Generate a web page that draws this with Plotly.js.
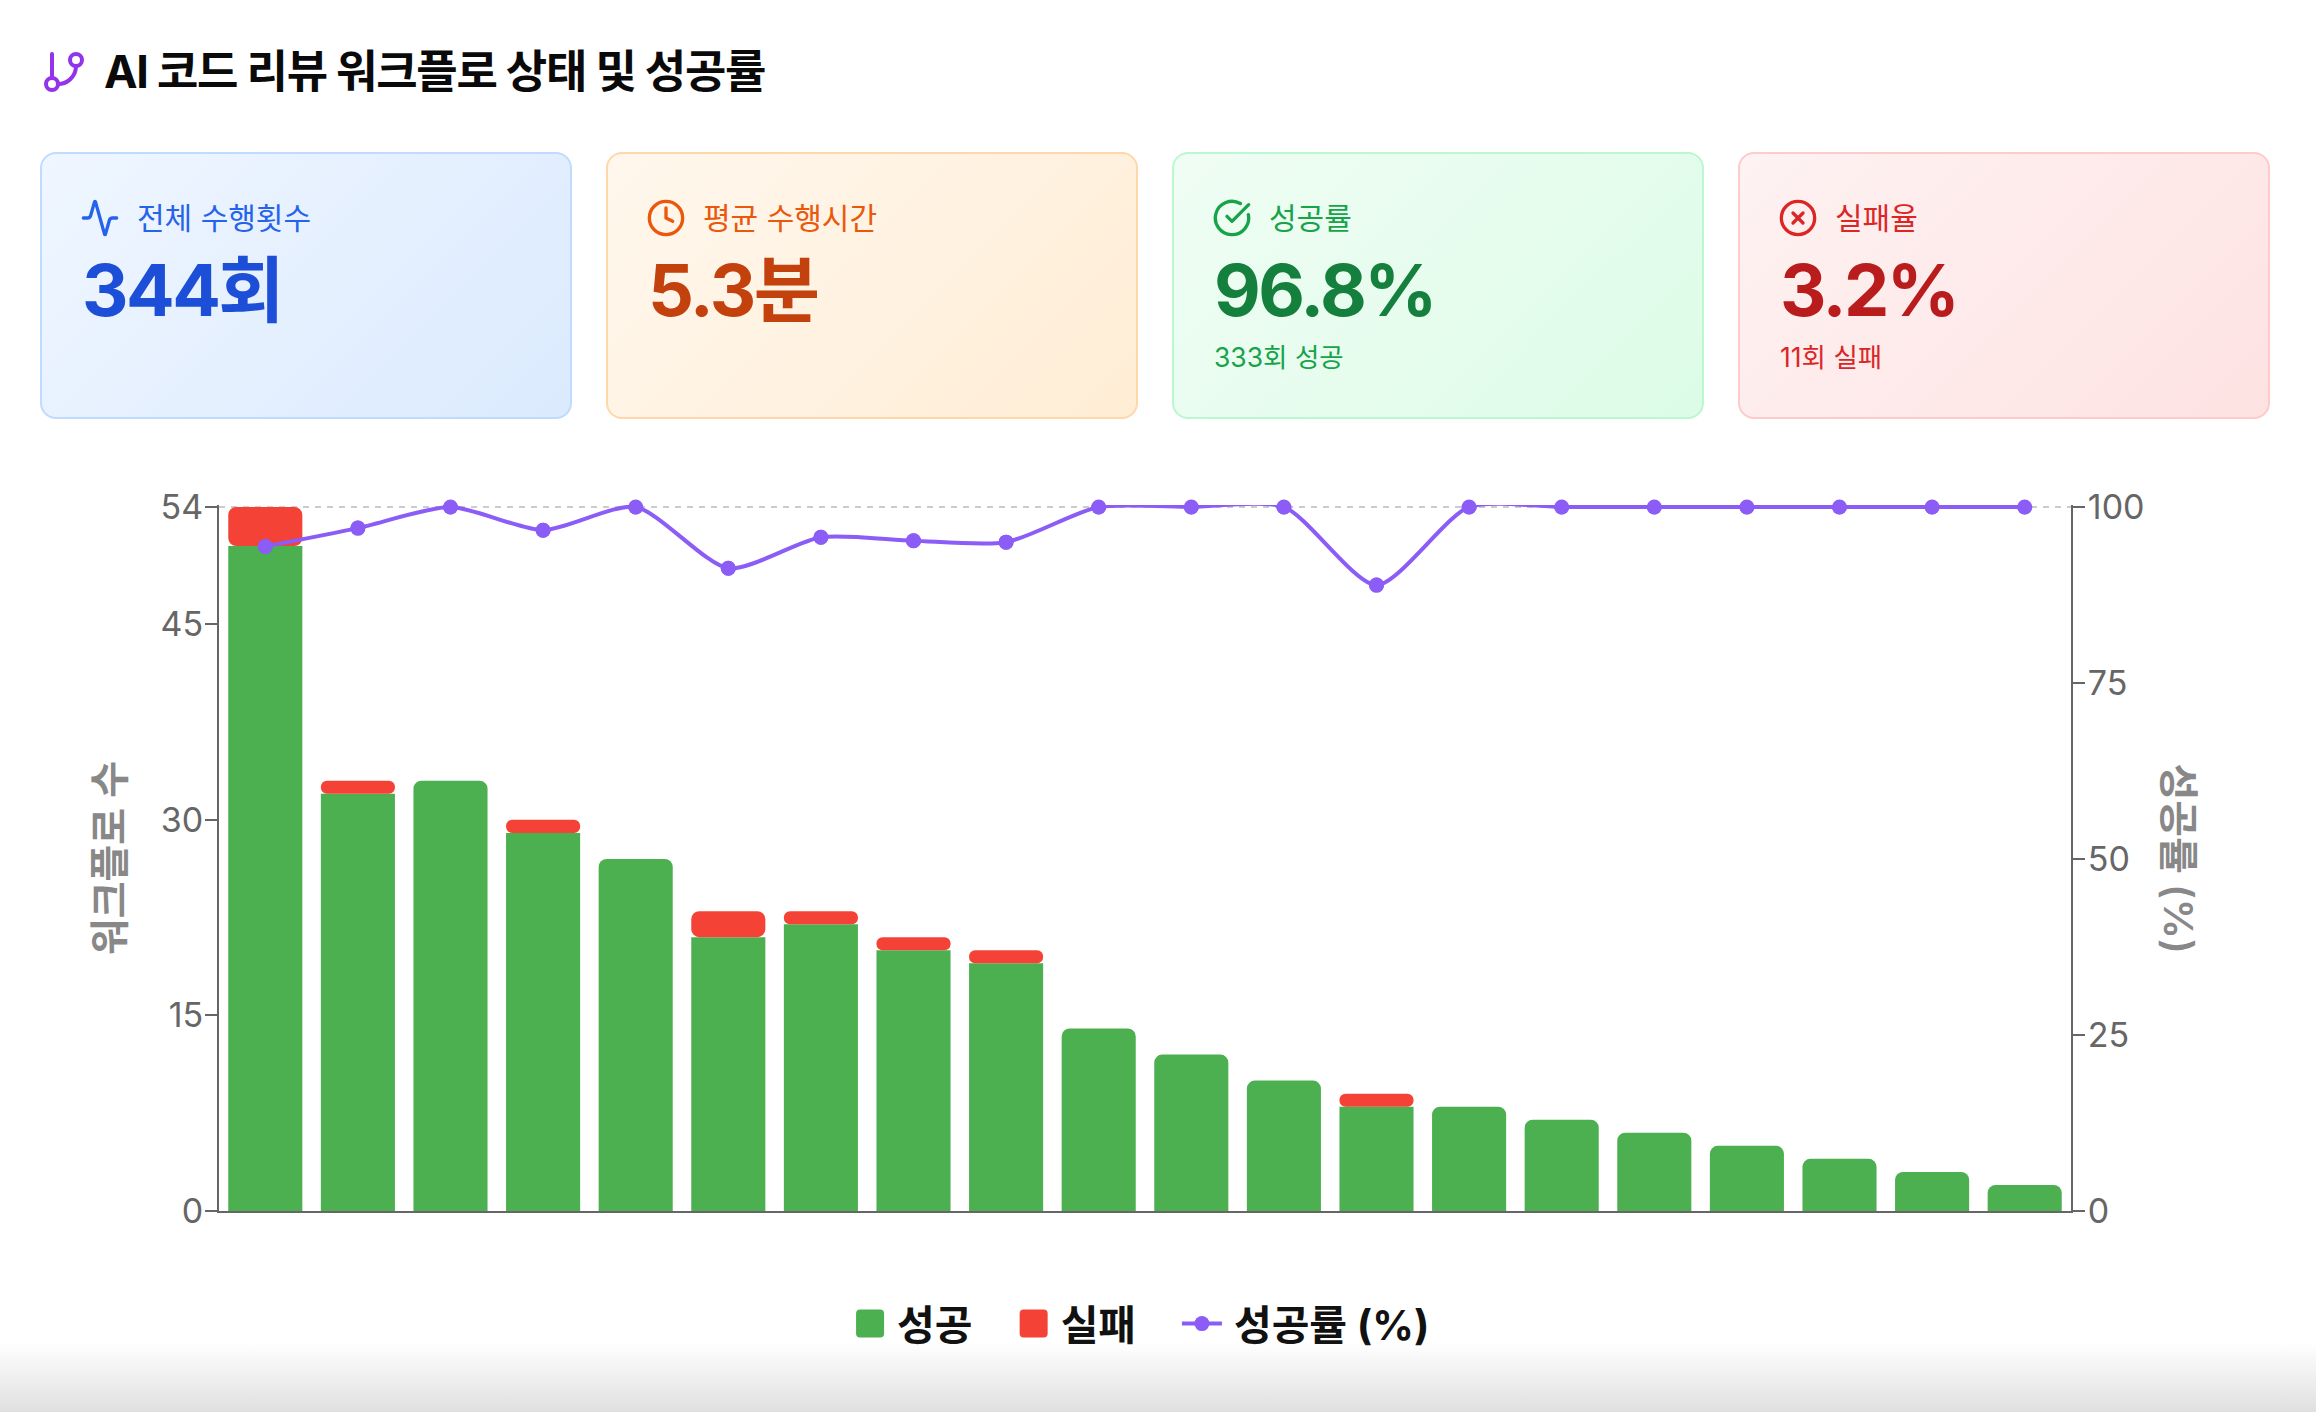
<!DOCTYPE html>
<html lang="ko">
<head>
<meta charset="utf-8">
<title>AI 코드 리뷰 워크플로 상태 및 성공률</title>
<script src="https://cdn.plot.ly/plotly-3.0.1.min.js"></script>
<style>
  html, body { margin: 0; background: #fff; font-family: Inter, "Noto Sans CJK KR", sans-serif; }
  body { position: relative; width: 2316px; height: 1412px; overflow: hidden; }
  #chart { position: absolute; left: 0; top: 0; width: 2316px; height: 1412px; }
  #chart .gtitle { letter-spacing: -1.3px; }
  #titleIcon { position: absolute; left: 40px; top: 48px; }
  .card { position: absolute; top: 152px; width: 532px; height: 267px; box-sizing: border-box; border: 2px solid; border-radius: 16px; }
  .card svg { position: absolute; left: 38px; top: 44px; }
  .card .label { position: absolute; left: 95px; top: 44px; font-size: 30px; line-height: 40px; }
  .card .value { position: absolute; left: 40px; top: 92px; font-size: 72px; line-height: 88px; font-weight: 700; letter-spacing: -2.5px; }
  .card .sub { position: absolute; left: 40px; top: 185px; font-size: 26.5px; line-height: 36px; }
  #fade { position: absolute; left: 0; right: 0; bottom: 0; height: 70px; pointer-events: none;
          background: linear-gradient(to bottom, rgba(224,224,224,0), rgba(224,224,224,1)); }
</style>
</head>
<body>
<div id="chart"></div>
<svg id="titleIcon" width="48" height="48" viewBox="0 0 24 24" fill="none" stroke="#9333ea" stroke-width="2" stroke-linecap="round" stroke-linejoin="round">
  <line x1="6" x2="6" y1="3" y2="15"/><circle cx="18" cy="6" r="3"/><circle cx="6" cy="18" r="3"/><path d="M18 9a9 9 0 0 1-9 9"/>
</svg>
<div id="cards"></div>
<div id="fade"></div>

<script>
var chartTitle = 'AI 코드 리뷰 워크플로 상태 및 성공률';

var workflows = [1, 2, 3, 4, 5, 6, 7, 8, 9, 10, 11, 12, 13, 14, 15, 16, 17, 18, 19, 20];
var success = [51, 32, 33, 29, 27, 21, 22, 20, 19, 14, 12, 10, 8, 8, 7, 6, 5, 4, 3, 2];
var failed = [3, 1, 0, 1, 0, 2, 1, 1, 1, 0, 0, 0, 1, 0, 0, 0, 0, 0, 0, 0];
var rate = [94.4, 97, 100, 96.7, 100, 91.3, 95.7, 95.2, 95, 100, 100, 100, 88.9, 100, 100, 100, 100, 100, 100, 100];

var countTicks = [0, 15, 30, 45, 54];
var rateTicks = [0, 25, 50, 75, 100];

var cardLeft = [40, 606, 1172, 1738];
var cardLabels = ['전체 수행횟수', '평균 수행시간', '성공률', '실패율'];
var cardValues = ['344회', '5.3분', '96.8%', '3.2%'];
var cardSubs = ['', '', '333회 성공', '11회 실패'];
var cardFrom = ['#eff6ff', '#fff7ed', '#f0fdf4', '#fef2f2'];
var cardTo = ['#dbeafe', '#ffedd5', '#dcfce7', '#fee2e2'];
var cardBorder = ['#bfdbfe', '#fed7aa', '#bbf7d0', '#fecaca'];
var cardLabelColor = ['#2563eb', '#ea580c', '#16a34a', '#dc2626'];
var cardValueColor = ['#1d4ed8', '#c2410c', '#15803d', '#b91c1c'];
var cardIcons = [
  '<path d="M22 12h-2.48a2 2 0 0 0-1.93 1.46l-2.35 8.36a.25.25 0 0 1-.48 0L9.24 2.18a.25.25 0 0 0-.48 0l-2.35 8.36A2 2 0 0 1 4.49 12H2"/>',
  '<circle cx="12" cy="12" r="10"/><polyline points="12 6 12 12 16 14"/>',
  '<path d="M21.8 10A10 10 0 1 1 17 3.34"/><path d="m9 11 3 3L22 4"/>',
  '<circle cx="12" cy="12" r="10"/><path d="m15 9-6 6"/><path d="m9 9 6 6"/>'
];

var cardHtml = '';
cardLabels.forEach(function (label, i) {
  cardHtml += '<div class="card" style="left:' + cardLeft[i] + 'px;border-color:' + cardBorder[i] +
    ';background:linear-gradient(135deg,' + cardFrom[i] + ',' + cardTo[i] + ')">' +
    '<svg width="40" height="40" viewBox="0 0 24 24" fill="none" stroke="' + cardLabelColor[i] +
    '" stroke-width="2" stroke-linecap="round" stroke-linejoin="round">' + cardIcons[i] + '</svg>' +
    '<div class="label" style="color:' + cardLabelColor[i] + '">' + label + '</div>' +
    '<div class="value" style="color:' + cardValueColor[i] + '">' + cardValues[i] + '</div>' +
    '<div class="sub" style="color:' + cardLabelColor[i] + '">' + cardSubs[i] + '</div></div>';
});
document.getElementById('cards').innerHTML = cardHtml;

var fontFamily = 'Inter, "Noto Sans CJK KR", sans-serif';
var axisTitleFont = { family: fontFamily, size: 40, color: '#888', weight: 600 };

var successBars = {
  x: workflows,
  y: success,
  type: 'bar',
  name: '성공\u00a0\u00a0\u00a0',
  marker: { color: '#4caf50', cornerradius: 8 }
};

var failedBars = {
  x: workflows,
  y: failed,
  base: success,
  type: 'bar',
  name: '실패\u00a0\u00a0\u00a0\u00a0',
  marker: { color: '#f44336', cornerradius: 8 }
};

var rateLine = {
  x: workflows,
  y: rate,
  yaxis: 'y2',
  type: 'scatter',
  mode: 'lines+markers',
  name: '성공률 (%)',
  line: { color: '#8b5cf6', width: 4, shape: 'spline', smoothing: 0.7 },
  marker: { color: '#8b5cf6', size: 15 }
};

// same points again so the dots at 100 are not cut by the plot edge
var rateDots = {
  x: workflows,
  y: rate,
  yaxis: 'y2',
  type: 'scatter',
  mode: 'markers',
  showlegend: false,
  cliponaxis: false,
  marker: { color: '#8b5cf6', size: 15 }
};

var layout = {
  title: {
    text: chartTitle,
    x: 104 / 2316,
    xanchor: 'left',
    xref: 'container',
    yref: 'container',
    y: 1 - 72 / 1412,
    yanchor: 'middle',
    font: { family: fontFamily, size: 45, color: '#0a0a0a', weight: 700 }
  },
  width: 2316,
  height: 1412,
  margin: { l: 219, r: 245, t: 505, b: 201, pad: 0 },
  paper_bgcolor: 'rgba(0,0,0,0)',
  plot_bgcolor: 'rgba(0,0,0,0)',
  barmode: 'overlay',
  bargap: 0.2,
  xaxis: {
    range: [0.5, 20.5],
    showticklabels: false,
    ticks: '',
    showgrid: false,
    zeroline: false,
    showline: true,
    linecolor: '#666',
    linewidth: 2
  },
  yaxis: {
    title: { text: '워크플로 수', standoff: 24, font: axisTitleFont },
    range: [0, 54.15],
    tickmode: 'array',
    tickvals: countTicks,
    ticks: 'outside',
    ticklen: 12,
    tickwidth: 2,
    tickcolor: '#666',
    ticklabelstandoff: -5,
    tickfont: { family: fontFamily, size: 34, color: '#666' },
    showgrid: false,
    zeroline: false,
    showline: true,
    linecolor: '#666',
    linewidth: 2
  },
  yaxis2: {
    overlaying: 'y',
    side: 'right',
    range: [0, 100.28],
    tickmode: 'array',
    tickvals: rateTicks,
    ticks: 'outside',
    ticklen: 12,
    tickwidth: 2,
    tickcolor: '#666',
    ticklabelstandoff: -4,
    tickfont: { family: fontFamily, size: 34, color: '#666' },
    showgrid: false,
    zeroline: false,
    showline: true,
    linecolor: '#666',
    linewidth: 2
  },
  // right axis title reads top to bottom in the original
  annotations: [{
    text: '성공률 (%)',
    textangle: 90,
    xref: 'paper',
    yref: 'paper',
    x: 1.0583,
    y: 0.498,
    xanchor: 'center',
    yanchor: 'middle',
    showarrow: false,
    font: axisTitleFont
  }],
  shapes: [{
    type: 'line',
    layer: 'below',
    xref: 'paper',
    x0: 0,
    x1: 1,
    yref: 'y',
    y0: countTicks[4],
    y1: countTicks[4],
    line: { color: '#ccc', width: 2, dash: '6px,6px' }
  }],
  legend: {
    orientation: 'h',
    x: 0.4968,
    xanchor: 'center',
    y: -0.16,
    yanchor: 'middle',
    itemwidth: 44,
    font: { family: fontFamily, size: 41, color: '#111', weight: 700 }
  },
  showlegend: true
};

var data = [successBars, failedBars, rateLine, rateDots];
Plotly.newPlot('chart', data, layout, { displayModeBar: false, responsive: false }).then(function () {
  // plotly's legend swatches are a fixed 12px square, the original's are larger
  var entries = document.querySelectorAll('.legend .traces');
  [entries[0], entries[1]].forEach(function (entry) {
    entry.querySelectorAll('path').forEach(function (p) {
      if (p.classList.contains('legendtoggle')) return;
      p.setAttribute('d', 'M10,14H-10Q-14,14 -14,10V-10Q-14,-14 -10,-14H10Q14,-14 14,-10V10Q14,14 10,14Z');
    });
  });
  document.querySelectorAll('.legendlines path').forEach(function (p) {
    p.setAttribute('d', 'M2,0h40');
  });
  document.querySelectorAll('.legendsymbols .legendpoints path').forEach(function (p) {
    if (entries[2].contains(p)) p.setAttribute('transform', 'translate(22,0)');
  });
});
</script>
</body>
</html>
